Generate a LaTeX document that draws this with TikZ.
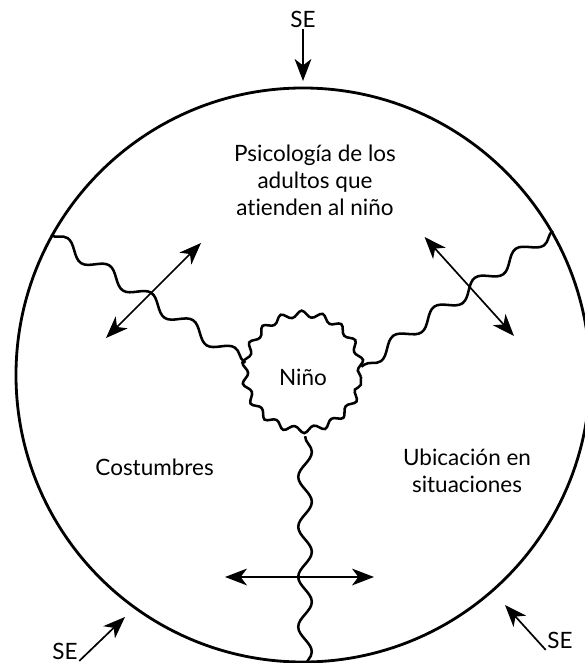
\documentclass[tikz,border=0pt]{standalone}
\usepackage{fontspec}
\setmainfont{Lato}[Ligatures={NoCommon,NoRare}]
\usetikzlibrary{arrows.meta,decorations.pathmorphing}

\tikzset{
	lbl/.style={font=\fontsize{16}{19.2}\selectfont,align=center,inner sep=1pt},
	wave/.style={decorate,decoration={snake,segment length=1.25cm,amplitude=0.17cm},line width=1.8pt},
	dbl/.style={{Stealth[length=5.5mm,width=4.2mm,inset=1.6mm]}-{Stealth[length=5.5mm,width=4.2mm,inset=1.6mm]},line width=1.2pt},
	inarrow/.style={-{Stealth[length=5.5mm,width=4.2mm,inset=1.6mm]},line width=1.2pt}
}

\begin{document}
\begin{tikzpicture}
	\useasboundingbox (-7.575,-7.2) rectangle (7.025,9.375);
	\node[circle,draw,line width=2pt,minimum size=14.35cm] (world) at (0,0) {};
	\node[lbl,circle,draw,line width=1.8pt,minimum size=2.9cm,decorate,decoration={snake,segment length=0.5061cm,amplitude=0.08cm}] (nino) at (0,-0.05) {Niño};
	\node[lbl] (adultos) at (0.3,4.875) {Psicología de los\\adultos que\\atienden al niño};
	\node[lbl] (costumbres) at (-3.71,-2.3) {Costumbres};
	\node[lbl] (ubicacion) at (4.1,-2.4) {Ubicación en\\situaciones};
	% the three borders between the zones
	\coordinate (bottomEnd) at (0.05,-7.9);
	\draw[wave] (world.151) -- (nino.166);
	\draw[wave] (world.30) -- (nino.10);
	\draw[wave] (nino.272) -- (bottomEnd);
	% exchanges across the borders
	\coordinate (la) at (-4.925,0.925);
	\coordinate (lb) at (-2.55,3.3);
	\coordinate (ra) at (3.04,3.45);
	\coordinate (rb) at (5.275,0.975);
	\coordinate (ba) at (-1.95,-5.05);
	\coordinate (bb) at (1.775,-5.05);
	\draw[dbl] (la) -- (lb);
	\draw[dbl] (ra) -- (rb);
	\draw[dbl] (ba) -- (bb);
	% SE from outside
	\node[lbl] (seTop) at (0,8.9) {SE};
	\node[lbl] (seBL) at (-5.95,-6.9) {SE};
	\node[lbl] (seBR) at (6.425,-6.625) {SE};
	\coordinate (topTip) at (0,7.35);
	\coordinate (blTip) at (-4.45,-6.05);
	\coordinate (brTip) at (5.05,-5.75);
	\draw[inarrow] (seTop.south) -- (topTip);
	\draw[inarrow] (seBL.south east) -- (blTip);
	\draw[inarrow] (seBR.south west) -- (brTip);
\end{tikzpicture}
\end{document}
